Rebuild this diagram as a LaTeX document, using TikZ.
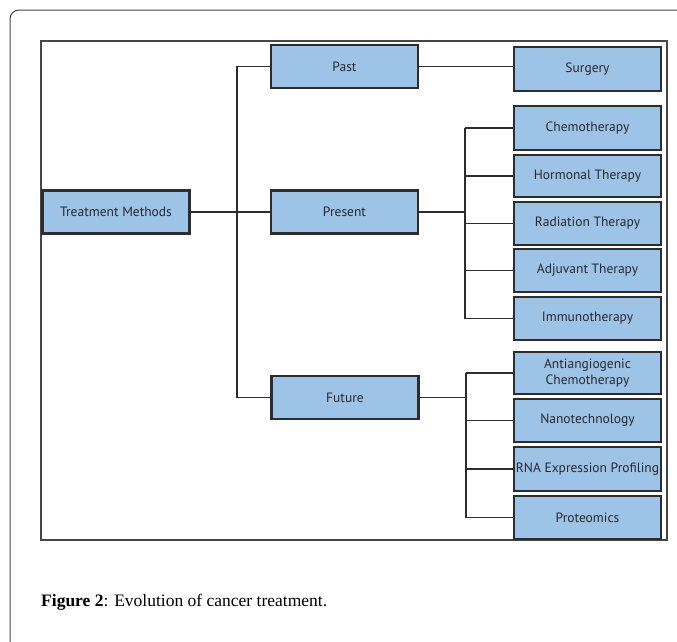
\documentclass[tikz,border=0pt]{standalone}
\usepackage{fontspec}
\setmainfont{Liberation Serif}
\newfontfamily\boxfont{PT Sans}
\definecolor{boxblue}{RGB}{157,195,230}
\definecolor{boxline}{RGB}{45,45,45}
\definecolor{txt}{RGB}{40,40,48}
\definecolor{frame}{RGB}{70,70,70}
\tikzset{
  bx/.style={rectangle, fill=boxblue, draw=boxline, line width=1.5pt, minimum width=147pt, minimum height=43pt, inner sep=0pt, text=txt, font=\boxfont\fontsize{13.5}{15}\selectfont, align=center},
  mainbx/.style={bx, line width=2.6pt},
  conn/.style={draw=boxline, line width=1.4pt}
}
\begin{document}
\begin{tikzpicture}[x=1pt,y=-1pt]
\useasboundingbox (0,0) rectangle (677,641);
\fill[white] (0,0) rectangle (677,641);
% outer frame
\draw[frame, line width=1pt, rounded corners=9pt] (10,700) -- (10,10) -- (720,10);
% inner figure frame
\draw[frame, line width=1.2pt] (41,41) rectangle (667,540);
% nodes
\node[mainbx] (tm) at (116,212) {Treatment Methods};
\node[mainbx] (pa) at (344.5,66.5) {Past};
\node[mainbx] (pr) at (344.5,212) {Present};
\node[mainbx] (fu) at (345,397.5) {Future};
\node[bx, minimum height=44pt] (su) at (587.5,69) {Surgery};
\node[bx, minimum height=44pt] (ch) at (587.5,128) {Chemotherapy};
\node[bx, minimum height=42pt] (ho) at (587.5,176) {Hormonal Therapy};
\node[bx] (ra) at (587.5,223.5) {Radiation Therapy};
\node[bx] (ad) at (587.5,270.5) {Adjuvant Therapy};
\node[bx] (im) at (587.5,318.5) {Immunotherapy};
\node[bx, minimum height=42pt] (an) at (587.5,373) {Antiangiogenic\\[1pt]Chemotherapy};
\node[bx] (na) at (587.5,420.5) {Nanotechnology};
\node[bx, minimum height=44pt] (rn) at (587.5,469) {RNA Expression Profiling};
\node[bx] (pt) at (587.5,517.5) {Proteomics};
% bus coordinates
\coordinate (b1) at (237,0);
\coordinate (b2) at (465,0);
\coordinate (b3) at (466,0);
% connectors
\draw[conn] (tm.east) -- (pr.west);
\draw[conn] (pa.west) -- (pa.west -| b1) -- (fu.west -| b1) -- (fu.west);
\draw[conn] (pa.east) -- (pa.east -| su.west);
\draw[conn] (pr.east) -- (pr.east -| b2);
\draw[conn] (ch.west -| b2) -- (im.west -| b2);
\foreach \n in {ch,ho,ra,ad,im} \draw[conn] (\n.west -| b2) -- (\n.west);
\draw[conn] (fu.east) -- (fu.east -| b3);
\draw[conn] (an.west -| b3) -- (pt.west -| b3);
\foreach \n in {an,na,rn,pt} \draw[conn] (\n.west -| b3) -- (\n.west);
% caption
\node[anchor=west, inner sep=0pt, font=\fontsize{17.5}{19}\selectfont] (cap) at (41,602) {\textbf{Figure 2}: Evolution of cancer treatment.};
\end{tikzpicture}
\end{document}
